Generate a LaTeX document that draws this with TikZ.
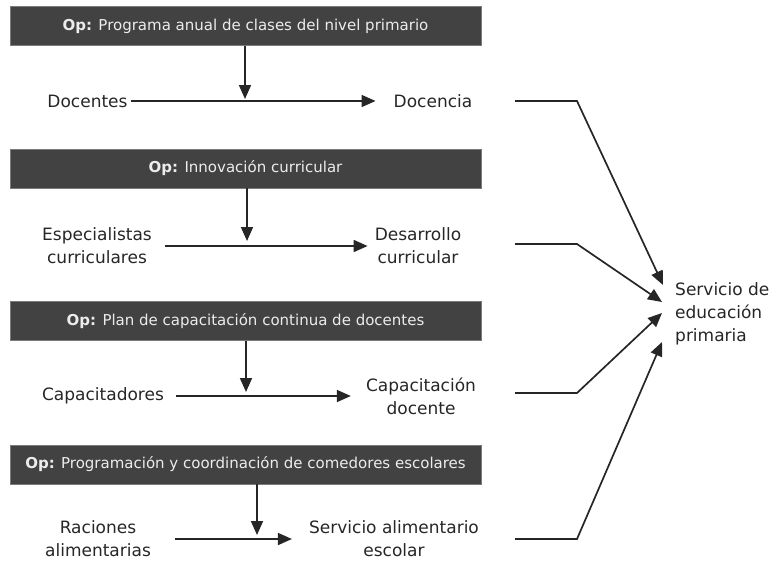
\documentclass[tikz,border=0pt]{standalone}
\usepackage{fontspec}
\setmainfont{DejaVu Sans}
\usepackage{xcolor}
\usetikzlibrary{arrows.meta,positioning}
\definecolor{boxgray}{RGB}{66,66,66}
\definecolor{inkgray}{RGB}{38,38,38}
\definecolor{paper}{RGB}{236,236,236}
\tikzstyle{opbox} = [fill=boxgray, draw=boxgray!70, text=paper, minimum width=471pt, minimum height=39pt, inner sep=0pt, font=\fontsize{15}{18}\selectfont]
\tikzstyle{item} = [text=inkgray, align=center, inner sep=2pt, font=\fontsize{17}{23}\selectfont]
\tikzstyle{arrow} = [line width=1.7pt, draw=inkgray, -{Triangle[length=14pt,width=12pt]}]

\begin{document}
\begin{tikzpicture}[x=1pt,y=-1pt]
\useasboundingbox (0,0) rectangle (776,562);

\node [opbox] (op1) at (245.5,26) {\textbf{Op:} Programa anual de clases del nivel primario};
\node [opbox] (op2) at (245.5,168.5) {\textbf{Op:} Innovación curricular};
\node [opbox] (op3) at (245.5,321) {\textbf{Op:} Plan de capacitación continua de docentes};
\node [opbox] (op4) at (245.5,464.5) {\textbf{Op:} Programación y coordinación de comedores escolares};

\node [item] (doc) at (87.5,101) {Docentes};
\node [item] (dcc) at (433,101) {Docencia};
\node [item] (esp) at (97,246) {Especialistas\\curriculares};
\node [item] (des) at (418,246) {Desarrollo\\curricular};
\node [item] (cap) at (103,396) {Capacitadores};
\node [item] (cdo) at (421,396) {Capacitación\\docente};
\node [item] (rac) at (98,539) {Raciones\\alimentarias};
\node [item] (sae) at (394,539) {Servicio alimentario\\escolar};
\node [item, align=left, anchor=west] (serv) at (673,314) {Servicio de\\educación\\primaria};

\coordinate (m1) at (245,99);
\coordinate (m2) at (247,241);
\coordinate (m3) at (246,392);
\coordinate (m4) at (257,535);
\coordinate (rx) at (515,0);
\coordinate (bx) at (577,0);

\draw [arrow] (op1.south -| m1) -- (m1);
\draw [arrow] (op2.south -| m2) -- (m2);
\draw [arrow] (op3.south -| m3) -- (m3);
\draw [arrow] (op4.south -| m4) -- (m4);

\draw [arrow, shorten <=1pt, shorten >=16pt] (doc.east) -- (dcc.west);
\draw [arrow, shorten <=11pt, shorten >=5pt] (esp.east) -- (des.west);
\draw [arrow, shorten <=10pt, shorten >=13pt] (cap.east) -- (cdo.west);
\draw [arrow, shorten <=22pt, shorten >=15pt] (rac.east) -- (sae.west);

\draw [arrow] (dcc.east -| rx) -- (dcc.east -| bx) -- ([shift={(-10,-29)}]serv.west);
\draw [arrow] ([yshift=2pt]des.east -| rx) -- ([yshift=2pt]des.east -| bx) -- ([shift={(-11,-12)}]serv.west);
\draw [arrow] ([yshift=3pt]cdo.east -| rx) -- ([yshift=3pt]cdo.east -| bx) -- ([shift={(-11,-1)}]serv.west);
\draw [arrow] (sae.east -| rx) -- (sae.east -| bx) -- ([shift={(-11,28)}]serv.west);
\end{tikzpicture}
\end{document}
